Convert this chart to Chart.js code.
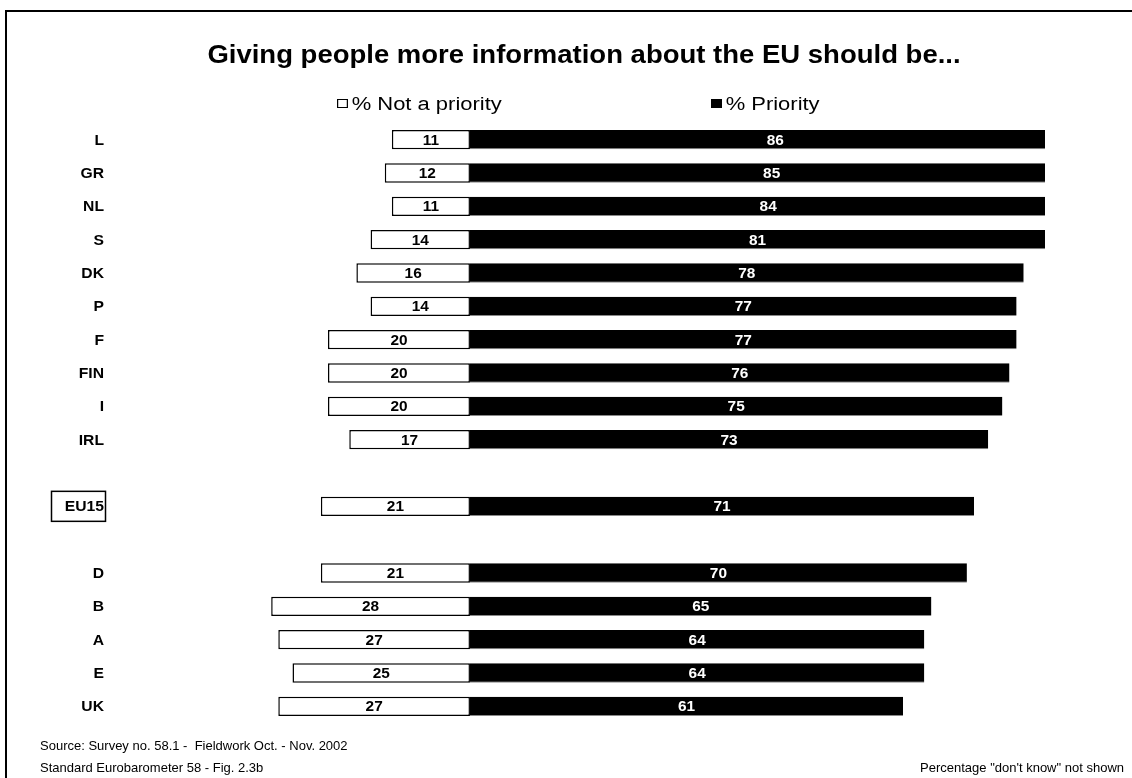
<!DOCTYPE html>
<html>
<head>
<meta charset="utf-8">
<script src="https://cdn.jsdelivr.net/npm/chart.js@4/dist/chart.umd.min.js"></script>
<style>
  body { margin: 0; background: #fff; font-family: "Liberation Sans", Arial, sans-serif; }
  #wrap { position: relative; width: 1132px; height: 778px; overflow: hidden; }
  #frame { position: absolute; left: 5px; top: 10px; right: -10px; bottom: -10px; border-left: 2px solid #000; border-top: 2px solid #000; }
  canvas { position: absolute; left: 0; top: 0; }
  .txt { position: absolute; white-space: nowrap; color: #000; }
  #title { left: 584px; top: 40px; font-size: 25px; font-weight: bold; transform: translateX(-50%) scaleX(1.1); }
  .lg { top: 94px; font-size: 18px; transform-origin: 0 50%; transform: scaleX(1.22); }
  .lg i { display: inline-block; width: 7px; height: 7px; border: 1px solid #000; margin-right: 3px; vertical-align: 2px; }
  .foot { font-size: 13px; }
</style>
</head>
<body>
<div id="wrap">
  <div id="frame"></div>
  <canvas id="chart" width="1132" height="778"></canvas>
  <div class="txt" id="title">Giving people more information about the EU should be...</div>
  <div class="txt lg" style="left:337px"><i style="background:#fff"></i>% Not a priority</div>
  <div class="txt lg" style="left:711px"><i style="background:#000"></i>% Priority</div>
  <div class="txt foot" style="left:40px;top:738px">Source: Survey no. 58.1 -&nbsp; Fieldwork Oct. - Nov. 2002</div>
  <div class="txt foot" style="left:40px;top:760px">Standard Eurobarometer 58 - Fig. 2.3b</div>
  <div class="txt foot" style="right:8px;top:760px">Percentage "don't know" not shown</div>
</div>
<script>
const countries = ['L', 'GR', 'NL', 'S', 'DK', 'P', 'F', 'FIN', 'I', 'IRL', '', 'EU15', '', 'D', 'B', 'A', 'E', 'UK'];
const notPriority = [11, 12, 11, 14, 16, 14, 20, 20, 20, 17, null, 21, null, 21, 28, 27, 25, 27];
const priority = [86, 85, 84, 81, 78, 77, 77, 76, 75, 73, null, 71, null, 70, 65, 64, 64, 61];

// labels centred on each segment (full length, even when clipped)
const valueLabels = {
    id: 'valueLabels',
    afterDatasetsDraw(chart) {
        const ctx = chart.ctx;
        chart.data.datasets.forEach((ds, i) => {
            chart.getDatasetMeta(i).data.forEach((bar, j) => {
                const v = ds.raw[j];
                if (v == null) return;
                ctx.save();
                ctx.font = 'bold 14px "Liberation Sans", Arial, sans-serif';
                ctx.textAlign = 'center';
                ctx.textBaseline = 'middle';
                ctx.fillStyle = i === 0 ? '#000' : '#fff';
                ctx.translate((bar.x + bar.base) / 2, bar.y + 1);
                ctx.scale(1.1, 1);
                ctx.fillText(v, 0, 0);
                ctx.restore();
            });
        });
    }
};

// country names on the left, EU15 boxed
const rowLabels = {
    id: 'rowLabels',
    afterDraw(chart) {
        const ctx = chart.ctx;
        const y = chart.scales.y;
        countries.forEach((c, i) => {
            if (!c) return;
            const py = y.getPixelForValue(i);
            ctx.save();
            ctx.font = 'bold 14px "Liberation Sans", Arial, sans-serif';
            ctx.fillStyle = '#000';
            ctx.textAlign = 'right';
            ctx.textBaseline = 'middle';
            ctx.translate(104, py + 1);
            ctx.scale(1.12, 1);
            ctx.fillText(c, 0, 0);
            ctx.restore();
            if (c === 'EU15') {
                ctx.save();
                ctx.strokeStyle = '#000';
                ctx.lineWidth = 1.5;
                ctx.strokeRect(51.5, py - 15, 54, 30);
                ctx.restore();
            }
        });
    }
};

const ctx = document.getElementById('chart').getContext('2d');
new Chart(ctx, {
    type: 'bar',
    data: {
        labels: countries,
        datasets: [{
            label: '% Not a priority',
            data: notPriority.map(v => v == null ? null : -v),
            raw: notPriority,
            backgroundColor: '#fff',
            borderColor: '#000',
            borderWidth: 1.5,
            borderSkipped: false
        }, {
            label: '% Priority',
            data: priority,
            raw: priority,
            backgroundColor: '#000',
            borderColor: '#888',
            borderWidth: { top: 0, left: 0, right: 0, bottom: 1 },
            borderSkipped: false
        }]
    },
    options: {
        indexAxis: 'y',
        responsive: false,
        animation: false,
        layout: { padding: { left: 186, right: 87, top: 123, bottom: 55 } },
        datasets: { bar: { barPercentage: 1, categoryPercentage: 0.58 } },
        plugins: {
            legend: { display: false },
            tooltip: { enabled: false }
        },
        scales: {
            x: { stacked: true, display: false, min: -40, max: 81 },
            y: { stacked: true, display: false }
        }
    },
    plugins: [valueLabels, rowLabels]
});
</script>
</body>
</html>
